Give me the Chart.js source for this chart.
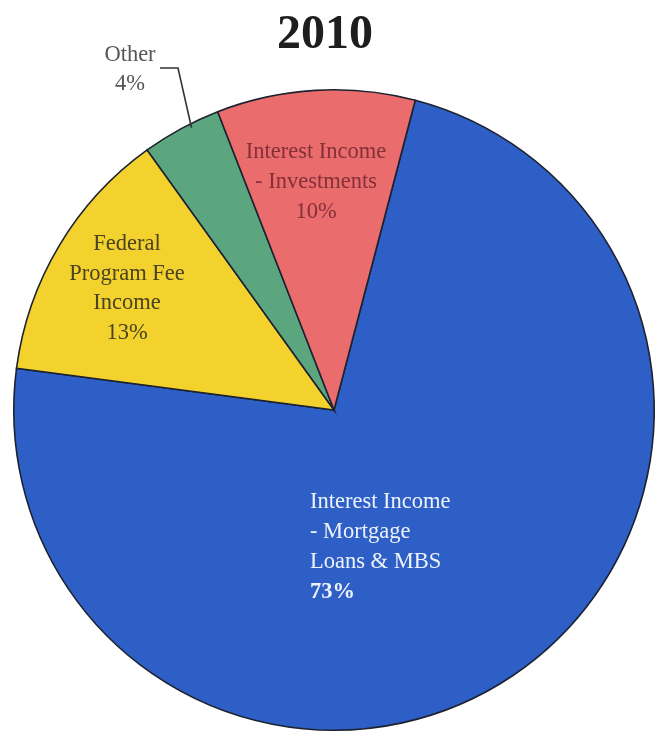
<!DOCTYPE html>
<html>
<head>
<meta charset="utf-8">
<script src="https://cdn.jsdelivr.net/npm/chart.js@4/dist/chart.umd.min.js"></script>
<style>
  html, body { margin: 0; padding: 0; background: #ffffff; }
  #wrap { width: 665px; height: 738px; position: relative; }
</style>
</head>
<body>
<div id="wrap"><canvas id="c"></canvas></div>
<script>
// Revenue sources for the year
const chartTitle = '2010';
const categories = [
  'Interest Income - Mortgage Loans & MBS',
  'Federal Program Fee Income',
  'Other',
  'Interest Income - Investments'
];
const shares = [73, 13, 4, 10];
const labelLines = [
  ['Interest Income', '- Mortgage', 'Loans & MBS'],
  ['Federal', 'Program Fee', 'Income'],
  ['Other'],
  ['Interest Income', '- Investments']
];

// Styling
const sliceColors = ['#2d5fc6', '#f3d22e', '#5ba67f', '#ea6c6c'];
const serif = "'Liberation Serif', 'Times New Roman', serif";
// label anchors relative to the pie centre (dx, first baseline dy)
const labelStyle = [
  { dx: -24,  dy: 98,   align: 'left',   color: '#eef2fb', step: 30, boldPct: true },
  { dx: -207, dy: -160, align: 'center', color: '#4a4320', step: 29.5 },
  { dx: -204, dy: -349, align: 'center', color: '#555555', step: 29, outside: true },
  { dx: -18,  dy: -252, align: 'center', color: '#84303a', step: 30 }
];

const labelPlugin = {
  id: 'sliceLabels',
  afterDatasetsDraw(chart) {
    const ctx = chart.ctx;
    const arcs = chart.getDatasetMeta(0).data;
    ctx.save();
    // title
    ctx.fillStyle = '#1e1e1e';
    ctx.font = `bold 48px ${serif}`;
    ctx.textAlign = 'center';
    ctx.textBaseline = 'alphabetic';
    ctx.fillText(chartTitle, 325, 48);

    arcs.forEach((arc, i) => {
      const st = labelStyle[i];
      const cx = arc.x, cy = arc.y;
      const lines = labelLines[i].concat([shares[i] + '%']);
      ctx.fillStyle = st.color;
      ctx.textAlign = st.align;
      ctx.textBaseline = 'alphabetic';
      lines.forEach((t, k) => {
        const isPct = k === lines.length - 1;
        ctx.font = `${isPct && st.boldPct ? 'bold ' : ''}22.5px ${serif}`;
        ctx.fillText(t, cx + st.dx, cy + st.dy + k * st.step);
      });
      if (st.outside) {
        // leader from label to slice edge
        const mid = (arc.startAngle + arc.endAngle) / 2 + 0.03;
        const ex = cx + Math.cos(mid) * (arc.outerRadius - 4);
        const ey = cy + Math.sin(mid) * (arc.outerRadius - 4);
        const lx = cx + st.dx + 30, ly = cy + st.dy + 7;
        ctx.strokeStyle = '#333333';
        ctx.lineWidth = 1.6;
        ctx.beginPath();
        ctx.moveTo(lx, ly);
        ctx.lineTo(lx + 18, ly);
        ctx.lineTo(ex, ey);
        ctx.stroke();
      }
    });
    ctx.restore();
  }
};

new Chart(document.getElementById('c'), {
  type: 'pie',
  data: {
    labels: categories,
    datasets: [{
      data: shares,
      backgroundColor: sliceColors,
      borderColor: '#1d2230',
      borderWidth: 1.6,
      borderJoinStyle: 'miter'
    }]
  },
  options: {
    responsive: true,
    maintainAspectRatio: false,
    animation: false,
    rotation: 14.7,
    layout: { padding: { top: 89, left: 13, right: 10, bottom: 7 } },
    plugins: {
      legend: { display: false },
      tooltip: { enabled: false },
      title: { display: false }
    }
  },
  plugins: [labelPlugin]
});
</script>
</body>
</html>
